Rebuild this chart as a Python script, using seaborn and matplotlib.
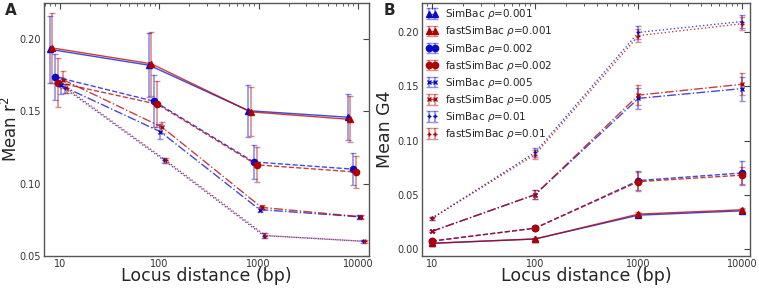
import numpy as np
import pandas as pd
import matplotlib
matplotlib.use("Agg")
import matplotlib.pyplot as plt
import matplotlib.colors as mcolors
from matplotlib.ticker import FixedLocator, FixedFormatter, LogLocator, NullFormatter
import seaborn as sns

# ---------------- data ----------------
distances = [10, 100, 1000, 10000]
rhos = ["0.001", "0.002", "0.005", "0.01"]
methods = ["SimBac", "fastSimBac"]

# Panel A : mean r^2
A_simbac = {
    "0.001": [0.193, 0.182, 0.1505, 0.146],
    "0.002": [0.174, 0.157, 0.115, 0.110],
    "0.005": [0.168, 0.136, 0.082, 0.077],
    "0.01":  [0.166, 0.116, 0.064, 0.060],
}
A_simbac_err = {
    "0.001": [0.023, 0.022, 0.018, 0.016],
    "0.002": [0.016, 0.018, 0.012, 0.011],
    "0.005": [0.006, 0.005, 0.002, 0.0015],
    "0.01":  [0.003, 0.002, 0.0015, 0.0012],
}
A_fast = {
    "0.001": [0.194, 0.183, 0.1497, 0.1445],
    "0.002": [0.170, 0.155, 0.113, 0.108],
    "0.005": [0.172, 0.139, 0.0835, 0.077],
    "0.01":  [0.166, 0.116, 0.064, 0.060],
}
A_fast_err = {
    "0.001": [0.024, 0.022, 0.017, 0.016],
    "0.002": [0.017, 0.016, 0.012, 0.011],
    "0.005": [0.006, 0.004, 0.002, 0.0015],
    "0.01":  [0.003, 0.002, 0.0015, 0.0012],
}

# Panel B : mean G4
B_simbac = {
    "0.001": [0.005, 0.009, 0.031, 0.035],
    "0.002": [0.007, 0.019, 0.063, 0.070],
    "0.005": [0.016, 0.050, 0.139, 0.148],
    "0.01":  [0.028, 0.089, 0.200, 0.210],
}
B_simbac_err = {
    "0.001": [0.001, 0.001, 0.002, 0.002],
    "0.002": [0.001, 0.002, 0.009, 0.011],
    "0.005": [0.001, 0.004, 0.010, 0.011],
    "0.01":  [0.001, 0.004, 0.006, 0.006],
}
B_fast = {
    "0.001": [0.005, 0.009, 0.032, 0.036],
    "0.002": [0.007, 0.019, 0.062, 0.068],
    "0.005": [0.016, 0.050, 0.142, 0.152],
    "0.01":  [0.028, 0.087, 0.197, 0.208],
}
B_fast_err = {
    "0.001": [0.001, 0.001, 0.002, 0.002],
    "0.002": [0.001, 0.002, 0.009, 0.008],
    "0.005": [0.001, 0.004, 0.009, 0.010],
    "0.01":  [0.001, 0.004, 0.006, 0.006],
}

# ---------------- style ----------------
sns.set_theme(style="white")
plt.rcParams["font.family"] = ["DejaVu Sans"]

colors = {"SimBac": "#0a0acc", "fastSimBac": "#b00000"}
linestyles = {"0.001": "-", "0.002": "--", "0.005": "-.", "0.01": ":"}
markers = {"0.001": "^", "0.002": "o", "0.005": "x", "0.01": "+"}
msizes = {"0.001": 4.5, "0.002": 4.5, "0.005": 3.5, "0.01": 3.5}
# horizontal jitter used in panel A
jitterA = {("SimBac", "0.001"): 0.79, ("fastSimBac", "0.001"): 0.83,
           ("SimBac", "0.002"): 0.89, ("fastSimBac", "0.002"): 0.955,
           ("SimBac", "0.005"): 1.02, ("fastSimBac", "0.005"): 1.07,
           ("SimBac", "0.01"): 1.12, ("fastSimBac", "0.01"): 1.17}

fig = plt.figure(figsize=(7.59, 2.88), dpi=100)
axA = fig.add_axes([0.0580, 0.112, 0.4281, 0.877])
axB = fig.add_axes([0.5556, 0.112, 0.4326, 0.877])


def draw(ax, sim, simerr, fast, fasterr, jitter):
    for rho in rhos:
        for m in methods:
            vals = sim[rho] if m == "SimBac" else fast[rho]
            errs = simerr[rho] if m == "SimBac" else fasterr[rho]
            df = pd.DataFrame({"x": distances, "y": vals, "e": errs})
            if jitter is not None:
                df["x"] = df["x"] * jitter[(m, rho)]
            c = colors[m]
            ax.errorbar(df["x"], df["y"], yerr=df["e"],
                        color=mcolors.to_rgba(c, 0.75),
                        ecolor=mcolors.to_rgba(c, 0.45),
                        ls=linestyles[rho], lw=1.0,
                        marker=markers[rho], ms=msizes[rho],
                        mfc=c, mec=c, mew=1.0,
                        elinewidth=1.2, capsize=2.5, capthick=1.0,
                        label=f"{m} $\\rho$={rho}")


draw(axA, A_simbac, A_simbac_err, A_fast, A_fast_err, jitterA)
draw(axB, B_simbac, B_simbac_err, B_fast, B_fast_err, None)

for ax in (axA, axB):
    ax.set_xscale("log")
    ax.xaxis.set_major_locator(FixedLocator(distances))
    ax.xaxis.set_major_formatter(FixedFormatter([str(d) for d in distances]))
    ax.xaxis.set_minor_locator(LogLocator(base=10, subs=np.arange(2, 10)))
    ax.xaxis.set_minor_formatter(NullFormatter())
    ax.tick_params(which="both", direction="in", top=True, right=True,
                   colors="#444444", labelcolor="#333333", labelsize=7, pad=2)
    ax.tick_params(which="major", length=4, width=0.8)
    ax.tick_params(which="minor", length=2, width=0.6)
    for s in ax.spines.values():
        s.set_color("#555555")
        s.set_linewidth(1.0)
    ax.set_xlabel("Locus distance (bp)", fontsize=12.5, labelpad=-1)
    ax.grid(False)

axA.set_xlim(6.9, 12900)
axA.set_ylim(0.05, 0.225)
axA.set_yticks([0.05, 0.10, 0.15, 0.20])
axA.set_yticklabels(["0.05", "0.10", "0.15", "0.20"])
axA.set_ylabel("Mean r$^2$", fontsize=12)
axA.yaxis.set_label_coords(-0.07, 0.5)

axB.set_xlim(8.0, 12000)
axB.set_ylim(-0.0065, 0.227)
axB.set_yticks([0.00, 0.05, 0.10, 0.15, 0.20])
axB.set_yticklabels(["0.00", "0.05", "0.10", "0.15", "0.20"])
axB.set_ylabel("Mean G4", fontsize=12.5)
axB.yaxis.set_label_coords(-0.085, 0.5)

axB.legend(loc="upper left", frameon=False, fontsize=7.5, numpoints=2,
           handlelength=1.2, labelspacing=0.3, borderaxespad=0.15,
           handletextpad=0.6, borderpad=0.25)

fig.text(0.006, 0.99, "A", fontsize=11, fontweight="bold", va="top", ha="left")
fig.text(0.505, 0.99, "B", fontsize=11, fontweight="bold", va="top", ha="left")

fig.savefig("out.png", dpi=100)
